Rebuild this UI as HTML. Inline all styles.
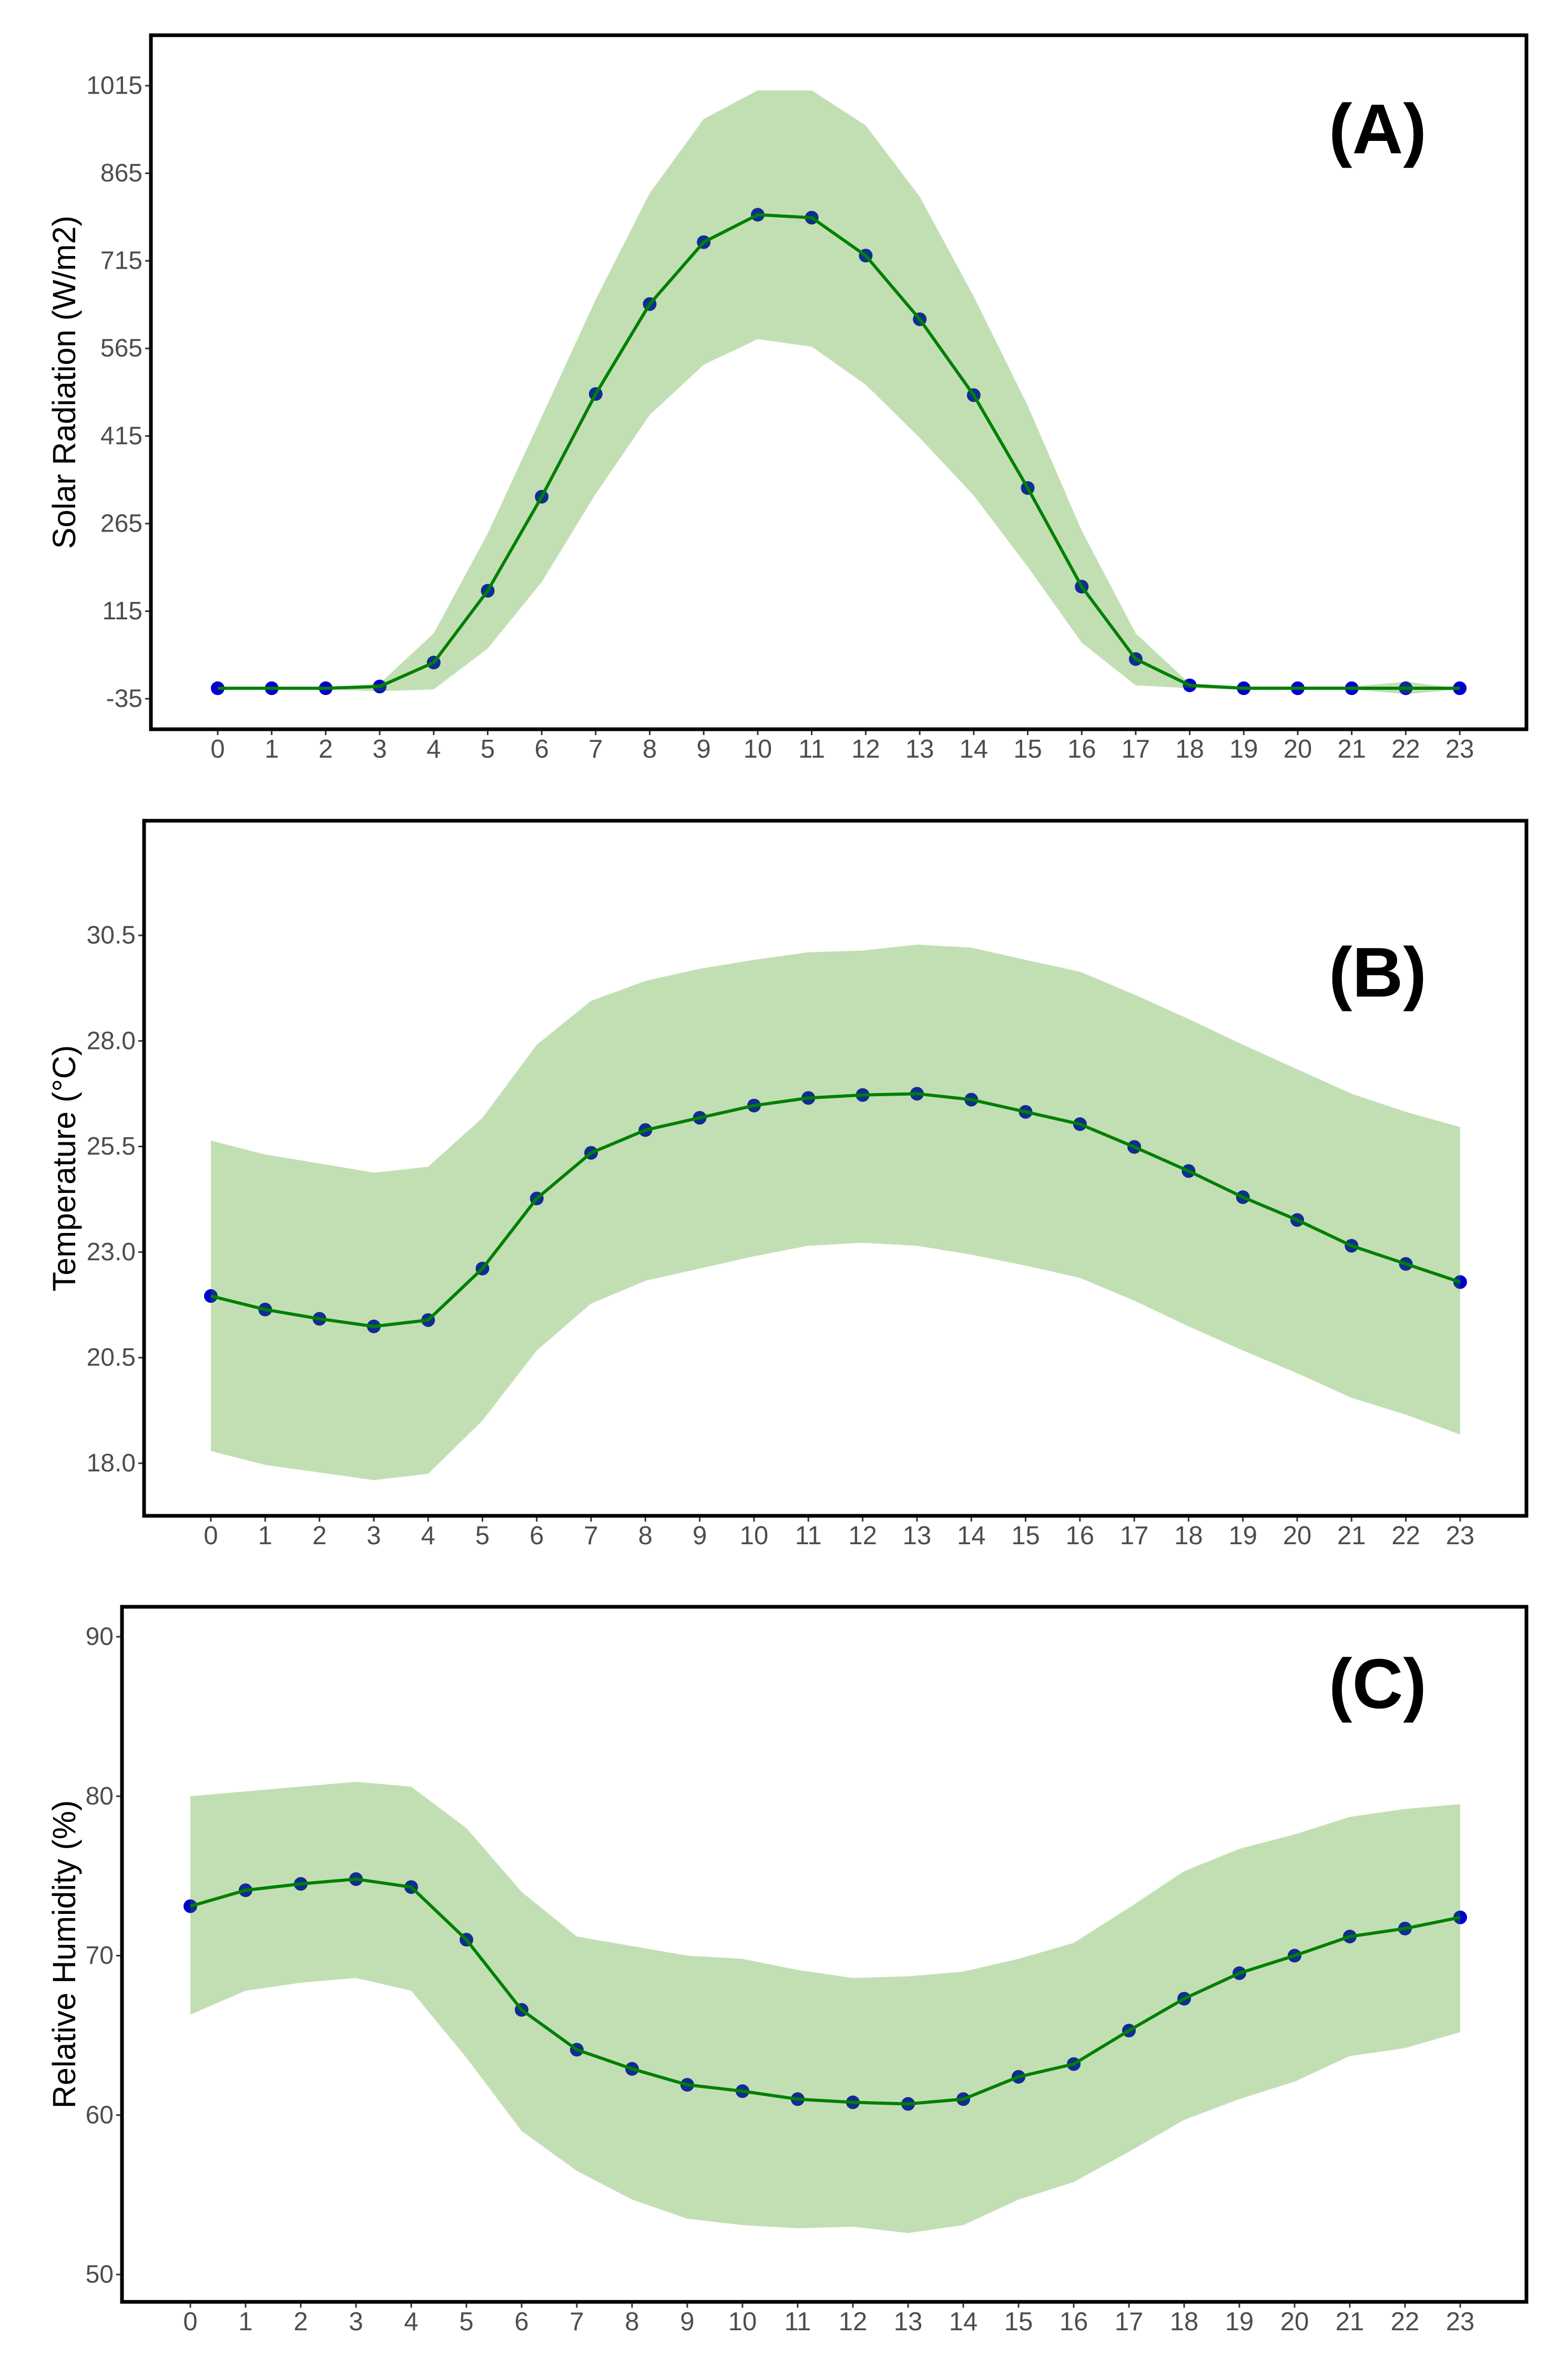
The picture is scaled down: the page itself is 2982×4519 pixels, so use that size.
<!DOCTYPE html>
<html><head><meta charset="utf-8"><style>
html,body{margin:0;padding:0;background:#fff;}
svg{display:block;}
text{font-family:"Liberation Sans",Arial,sans-serif;}
</style></head><body>
<svg id="fig" width="2982" height="4519" viewBox="0 0 2982 4519" xmlns="http://www.w3.org/2000/svg"></svg>
<script>
const hours = [0,1,2,3,4,5,6,7,8,9,10,11,12,13,14,15,16,17,18,19,20,21,22,23];

const solarMean  = [-17,-17,-17,-14,27,150,311,487,641,747,794,789,724,615,485,326,157,33,-12,-17,-17,-17,-17,-17];
const solarUpper = [-17,-17,-17,-9,77,248,448,649,831,958,1007,1007,947,825,654,467,253,77,-9,-14,-14,-14,-6,-17];
const solarLower = [-19,-19,-19,-22,-19,51,165,316,451,537,581,568,503,412,313,191,61,-12,-17,-19,-19,-19,-27,-19];
const solarTicks = [-35,115,265,415,565,715,865,1015];

const tempMean  = [21.96,21.64,21.42,21.24,21.39,22.61,24.27,25.35,25.89,26.18,26.47,26.65,26.72,26.75,26.61,26.32,26.03,25.49,24.92,24.30,23.76,23.15,22.72,22.29];
const tempUpper = [25.64,25.31,25.10,24.88,25.02,26.18,27.91,28.95,29.42,29.71,29.92,30.10,30.14,30.28,30.21,29.92,29.64,29.10,28.52,27.91,27.33,26.75,26.32,25.96];
const tempLower = [18.29,17.96,17.78,17.60,17.75,19.01,20.67,21.78,22.32,22.61,22.90,23.15,23.22,23.15,22.94,22.68,22.39,21.85,21.24,20.67,20.13,19.55,19.15,18.68];
const tempTicks = [18.0,20.5,23.0,25.5,28.0,30.5];

const rhMean  = [73.1,74.1,74.5,74.8,74.3,71.0,66.6,64.1,62.9,61.9,61.5,61.0,60.8,60.7,61.0,62.4,63.2,65.3,67.3,68.9,70.0,71.2,71.7,72.4];
const rhUpper = [80.0,80.3,80.6,80.9,80.6,78.0,74.0,71.2,70.6,70.0,69.8,69.1,68.6,68.7,69.0,69.8,70.8,73.0,75.3,76.7,77.6,78.7,79.2,79.5];
const rhLower = [66.3,67.8,68.3,68.6,67.8,63.6,59.0,56.5,54.7,53.5,53.1,52.9,53.0,52.6,53.1,54.7,55.8,57.7,59.7,61.0,62.1,63.7,64.2,65.2];
const rhTicks = [50,60,70,80,90];

const NS = "http://www.w3.org/2000/svg";
const svg = document.getElementById('fig');
function mk(tag, attrs, parent){
  const e = document.createElementNS(NS, tag);
  for (const k in attrs) e.setAttribute(k, attrs[k]);
  (parent||svg).appendChild(e);
  return e;
}

function panel(cfg){
  const g = mk('g', {});
  
  
  const xs = h => cfg.x0 + (h - hours[0]) * cfg.dx;
  const ys = v => cfg.yA + (v - cfg.vA) * (cfg.yB - cfg.yA) / (cfg.vB - cfg.vA);

  hours.forEach((h,i)=>{
    const c = mk('circle', {cx:xs(h), cy:ys(cfg.mean[i]), r:13, fill:'#0000cd'}, g);
    
    
  });
  let d = '';
  hours.forEach((h,i)=>{ d += (i? 'L':'M') + xs(h) + ',' + ys(cfg.upper[i]); });
  for (let i = hours.length-1; i >= 0; i--) d += 'L' + xs(hours[i]) + ',' + ys(cfg.lower[i]);
  d += 'Z';
  const rib = mk('path', {d:d, fill:'rgb(52,148,5)', 'fill-opacity':0.3}, g);
  
  
  const pts = hours.map((h,i)=> xs(h) + ',' + ys(cfg.mean[i])).join(' ');
  const ln = mk('polyline', {points:pts, fill:'none', stroke:'#008000', 'stroke-width':6, 'stroke-linejoin':'round'}, g);
  
  

  const fr = mk('rect', {x:cfg.L, y:cfg.T, width:cfg.R-cfg.L, height:cfg.B-cfg.T, fill:'none', stroke:'#000', 'stroke-width':7}, g);
  
  

  cfg.ticks.forEach(t=>{
    const y = ys(t);
    mk('line', {x1:cfg.L-11, x2:cfg.L-3, y1:y, y2:y, stroke:'#333', 'stroke-width':3}, g);
    const tx = mk('text', {x:cfg.L-16, y:y, 'font-size':48, fill:'#4d4d4d', 'text-anchor':'end', 'dominant-baseline':'central'}, g);
    tx.textContent = cfg.fmt(t);
    
    
  });
  hours.forEach(h=>{
    const x = xs(h);
    mk('line', {x1:x, x2:x, y1:cfg.B+3, y2:cfg.B+11, stroke:'#333', 'stroke-width':3}, g);
    const tx = mk('text', {x:x, y:cfg.B+38, 'font-size':49, fill:'#4d4d4d', 'text-anchor':'middle', 'dominant-baseline':'central'}, g);
    tx.textContent = String(h);
    
    
  });
  const cy = (cfg.T + cfg.B)/2;
  const tt = mk('text', {x:122, y:cy, 'font-size':61, fill:'#000', 'text-anchor':'middle', 'dominant-baseline':'central', transform:'rotate(-90 122 ' + cy + ')'}, g);
  tt.textContent = cfg.title;
  
  
  const pl = mk('text', {x:2620, y:cfg.labY, 'font-size':134, 'font-weight':'bold', fill:'#000', 'text-anchor':'middle', 'dominant-baseline':'central'}, g);
  pl.textContent = cfg.label;
  
  
}

panel({name:'solar-radiation-panel', L:287, T:67, R:2903, B:1387, x0:414, dx:102.7,
  vA:-35, yA:1329, vB:1015, yB:163, mean:solarMean, upper:solarUpper, lower:solarLower,
  ticks:solarTicks, fmt:t=>String(t), title:'Solar Radiation (W/m2)', label:'(A)', labY:246});

panel({name:'temperature-panel', L:274, T:1561, R:2903, B:2883, x0:401, dx:103.3,
  vA:18.0, yA:2783, vB:30.5, yB:1779, mean:tempMean, upper:tempUpper, lower:tempLower,
  ticks:tempTicks, fmt:t=>t.toFixed(1), title:'Temperature (°C)', label:'(B)', labY:1850});

panel({name:'relative-humidity-panel', L:232, T:3056, R:2903, B:4378, x0:362, dx:105,
  vA:50, yA:4326, vB:90, yB:3113, mean:rhMean, upper:rhUpper, lower:rhLower,
  ticks:rhTicks, fmt:t=>String(t), title:'Relative Humidity (%)', label:'(C)', labY:3203});
</script>
</body></html>
